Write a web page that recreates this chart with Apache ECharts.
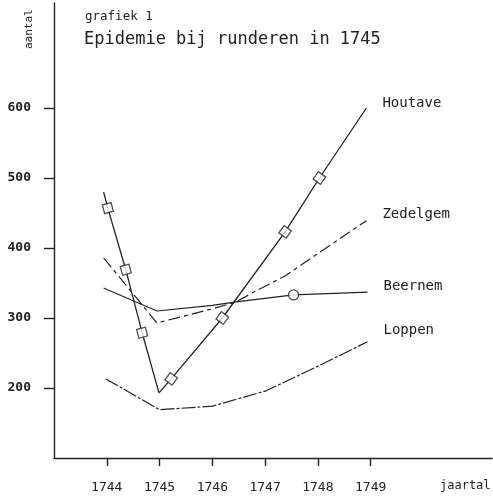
<!DOCTYPE html>
<html>
<head>
<meta charset="utf-8">
<script src="https://cdn.jsdelivr.net/npm/echarts@6/dist/echarts.min.js"></script>
<style>html,body{margin:0;padding:0;background:#fff}#c{width:493px;height:497px}</style>
</head>
<body>
<div id="c"></div>
<script>
// ---- data ----
const yearTicks = [1744, 1745, 1746, 1747, 1748, 1749];
const countTicks = [200, 300, 400, 500, 600];

const houtaveLine = [[1743.94, 480], [1744.02, 457], [1744.36, 369], [1744.67, 279], [1744.99, 193],
  [1745.22, 213], [1746.19, 300], [1747.38, 423], [1748.03, 500], [1748.92, 600]];
const houtaveMarkers = [[1744.02, 457], [1744.36, 369], [1744.67, 279], [1745.22, 213],
  [1746.19, 300], [1747.38, 423], [1748.03, 500]];
const zedelgemLine = [[1743.94, 386], [1744.95, 293], [1746.0, 313], [1746.45, 323], [1746.76, 336],
  [1747.4, 361], [1748.1, 397], [1748.92, 439]];
const beernemLine = [[1743.94, 343], [1744.95, 310], [1746.0, 318], [1746.45, 323],
  [1747.54, 333], [1748.94, 337]];
const beernemMarkers = [[1747.54, 333]];
const loppenLine = [[1743.98, 213], [1745.0, 169], [1746.0, 174], [1747.02, 196], [1747.97, 230], [1748.94, 266]];

const seriesNames = ['Houtave', 'Zedelgem', 'Beernem', 'Loppen'];
const titleText = 'Epidemie bij runderen in 1745';
const subText = 'grafiek 1';
const xName = 'jaartal';
const yName = 'aantal';

// ---- chart ----
const INK = '#222';
const FONT = '"DejaVu Sans Mono", monospace';
const chart = echarts.init(document.getElementById('c'), null, {renderer: 'canvas'});

function lineSeries(name, data, dash, width, offY) {
  return {
    type: 'line', name: name, data: data, symbol: 'none', silent: true,
    lineStyle: {color: INK, width: width, type: dash},
    endLabel: {show: true, formatter: name, color: INK, fontFamily: FONT, fontSize: 14,
      distance: 16, offset: [0, offY]},
    z: 2
  };
}

chart.setOption({
  animation: false,
  backgroundColor: '#fff',
  grid: {left: 54, top: 3, right: 1, bottom: 39},
  xAxis: {
    type: 'value', min: 1743, max: 1751.3,
    axisLine: {lineStyle: {color: INK, width: 1.4}},
    axisTick: {customValues: yearTicks, length: 8, lineStyle: {color: INK, width: 1.4}},
    axisLabel: {customValues: yearTicks, formatter: v => String(v), color: INK, fontFamily: FONT,
      fontSize: 13, margin: 23},
    splitLine: {show: false}
  },
  yAxis: {
    type: 'value', min: 100, max: 750,
    axisLine: {show: true, lineStyle: {color: INK, width: 1.4}},
    axisTick: {show: true, customValues: countTicks, length: 10, lineStyle: {color: INK, width: 1.4}},
    axisLabel: {customValues: countTicks, formatter: v => String(v), color: INK, fontFamily: FONT,
      fontSize: 13, fontWeight: 'bold', margin: 23, verticalAlign: 'middle', padding: [0, 0, 6, 0]},
    splitLine: {show: false}
  },
  graphic: [
    {type: 'text', left: 85, top: 10, style: {text: subText, fill: INK, font: '12.5px ' + FONT}},
    {type: 'text', left: 84, top: 31, style: {text: titleText, fill: INK, font: '17px ' + FONT}},
    {type: 'text', left: 440, top: 480, style: {text: xName, fill: INK, font: '12px ' + FONT}},
    {type: 'text', x: 24, y: 49, rotation: Math.PI / 2, style: {text: yName, fill: INK, font: '11px ' + FONT}}
  ],
  series: [
    lineSeries(seriesNames[0], houtaveLine, 'solid', 1.3, -5),
    lineSeries(seriesNames[1], zedelgemLine, [12, 4, 4, 4], 1.2, -6),
    lineSeries(seriesNames[2], beernemLine, 'solid', 1.1, -6),
    lineSeries(seriesNames[3], loppenLine, [14, 2, 3, 2], 1.2, -11),
    {
      type: 'scatter', data: houtaveMarkers, symbol: 'rect', symbolSize: 9, silent: true,
      symbolRotate: (v) => v[0] < 1745 ? 15 : 54,
      itemStyle: {color: '#fff', borderColor: INK, borderWidth: 1.3}, z: 3
    },
    {
      type: 'scatter', data: beernemMarkers, symbol: 'circle', symbolSize: 10, silent: true,
      itemStyle: {color: '#fff', borderColor: INK, borderWidth: 1.3}, z: 3
    }
  ]
});
</script>
</body>
</html>
